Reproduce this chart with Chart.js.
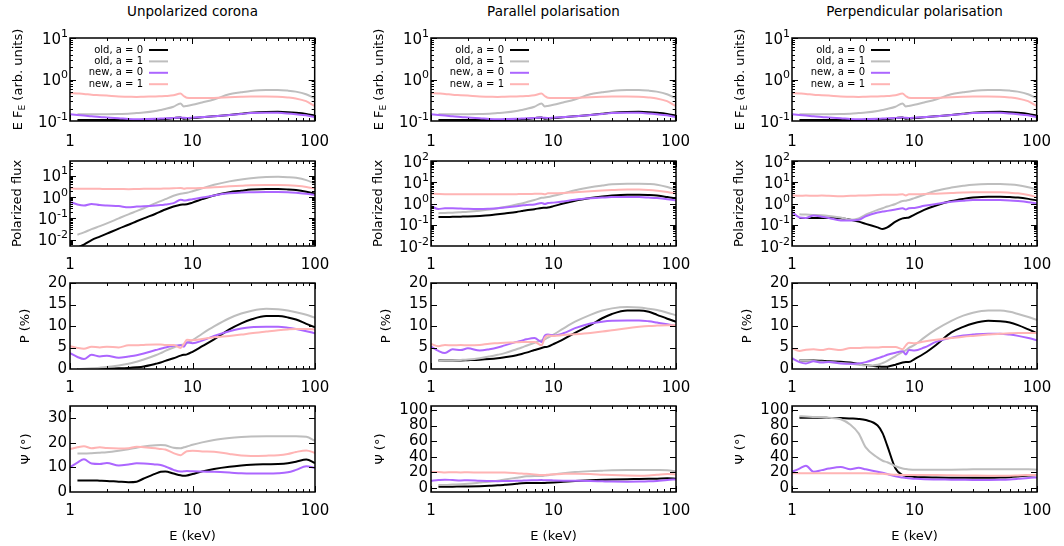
<!DOCTYPE html>
<html>
<head>
<meta charset="utf-8">
<script src="https://cdn.jsdelivr.net/npm/chart.js@4"></script>
<style>
  body { margin: 0; background: #fff; width: 1064px; height: 546px; position: relative; overflow: hidden; font-family: "DejaVu Sans", sans-serif; }
  canvas { position: absolute; }
  .coltitle { position: absolute; top: 3px; width: 245px; text-align: center; font-size: 13.5px; color: #000; }
</style>
</head>
<body>
<script>
// energies (keV), shared by every curve
const E = [1, 1.15, 1.3, 1.5, 1.75, 2, 2.5, 3, 3.5, 4, 5, 5.5, 6, 7, 8, 8.5, 9, 10, 12, 15, 20, 25, 30, 40, 50, 60, 70, 85, 100];

const SERIES_LABELS = ['old, a = 0', 'old, a = 1', 'new, a = 0', 'new, a = 1'];
const SERIES_COLORS = ['#000000', '#bebebe', '#ac66ff', '#ffb4b4'];
const COLUMN_TITLES = ['Unpolarized corona', 'Parallel polarisation', 'Perpendicular polarisation'];

// row 1: E F_E, same in all three columns
const fluxOld0 = [null, 0.105, 0.105, 0.105, 0.105, 0.105, 0.105, 0.105, 0.106, 0.107, 0.108, 0.11, 0.112, 0.117, 0.122, 0.114, 0.115, 0.118, 0.123, 0.13, 0.14, 0.15, 0.158, 0.165, 0.166, 0.163, 0.158, 0.148, 0.134];
const fluxOld1 = [null, 0.145, 0.145, 0.145, 0.145, 0.146, 0.148, 0.15, 0.155, 0.16, 0.175, 0.185, 0.195, 0.22, 0.265, 0.225, 0.23, 0.245, 0.28, 0.33, 0.44, 0.49, 0.53, 0.56, 0.56, 0.54, 0.51, 0.44, 0.35];
const fluxNew0 = [0.145, 0.14, 0.135, 0.13, 0.125, 0.122, 0.117, 0.112, 0.11, 0.111, 0.113, 0.115, 0.116, 0.118, 0.122, 0.119, 0.118, 0.12, 0.125, 0.13, 0.14, 0.148, 0.155, 0.158, 0.157, 0.152, 0.146, 0.137, 0.125];
const fluxNew1 = [0.47, 0.46, 0.45, 0.43, 0.42, 0.41, 0.39, 0.385, 0.38, 0.385, 0.39, 0.395, 0.4, 0.415, 0.46, 0.4, 0.365, 0.36, 0.36, 0.36, 0.375, 0.385, 0.39, 0.39, 0.385, 0.37, 0.35, 0.3, 0.23];

// row 2: polarized flux
const pfUnpolOld0 = [null, 0.0042, 0.0058, 0.0095, 0.0138, 0.019, 0.033, 0.05, 0.073, 0.1, 0.165, 0.21, 0.26, 0.36, 0.44, 0.45, 0.46, 0.55, 0.8, 1.2, 1.7, 2.0, 2.25, 2.4, 2.4, 2.3, 2.15, 1.8, 1.45];
const pfUnpolOld1 = [null, 0.017, 0.022, 0.031, 0.043, 0.058, 0.1, 0.155, 0.22, 0.3, 0.52, 0.65, 0.8, 1.15, 1.45, 1.5, 1.6, 1.9, 2.6, 3.8, 5.5, 6.8, 7.8, 8.8, 9.0, 8.7, 8.1, 6.3, 4.3];
const pfUnpolNew0 = [0.6, 0.45, 0.4, 0.48, 0.42, 0.4, 0.38, 0.33, 0.36, 0.37, 0.4, 0.42, 0.45, 0.52, 0.75, 0.7, 0.72, 0.8, 0.95, 1.2, 1.5, 1.65, 1.7, 1.75, 1.75, 1.7, 1.6, 1.45, 1.25];
const pfUnpolNew1 = [2.6, 2.5, 2.45, 2.5, 2.45, 2.4, 2.4, 2.35, 2.4, 2.45, 2.5, 2.5, 2.55, 2.6, 2.7, 2.5, 2.6, 2.6, 2.7, 2.9, 3.2, 3.4, 3.6, 3.7, 3.7, 3.6, 3.4, 3.0, 2.5];

const pfParOld0 = [null, 0.23, 0.23, 0.235, 0.24, 0.245, 0.26, 0.28, 0.31, 0.34, 0.4, 0.44, 0.48, 0.54, 0.62, 0.63, 0.65, 0.75, 1.0, 1.35, 1.8, 2.15, 2.4, 2.6, 2.6, 2.5, 2.35, 2.0, 1.7];
const pfParOld1 = [null, 0.35, 0.36, 0.37, 0.39, 0.41, 0.46, 0.52, 0.6, 0.68, 0.9, 1.0, 1.15, 1.45, 1.85, 1.9, 2.0, 2.3, 3.0, 4.2, 5.8, 7.0, 8.0, 8.6, 8.6, 8.3, 7.7, 6.0, 4.5];
const pfParNew0 = [0.76, 0.55, 0.6, 0.6, 0.58, 0.56, 0.55, 0.57, 0.6, 0.65, 0.75, 0.8, 0.85, 0.9, 1.05, 0.95, 1.05, 1.1, 1.25, 1.5, 1.75, 1.9, 2.0, 2.0, 2.0, 1.9, 1.8, 1.6, 1.4];
const pfParNew1 = [2.9, 2.8, 2.75, 2.75, 2.75, 2.7, 2.7, 2.7, 2.7, 2.7, 2.75, 2.8, 2.8, 2.85, 2.9, 2.7, 3.0, 3.0, 3.1, 3.4, 3.8, 4.1, 4.3, 4.5, 4.5, 4.3, 4.0, 3.5, 2.9];

const pfPerpOld0 = [null, 0.21, 0.21, 0.21, 0.21, 0.21, 0.2, 0.17, 0.14, 0.11, 0.075, 0.063, 0.075, 0.14, 0.2, 0.21, 0.22, 0.3, 0.5, 0.8, 1.3, 1.65, 1.9, 2.1, 2.1, 2.0, 1.9, 1.65, 1.4];
const pfPerpOld1 = [null, 0.31, 0.3, 0.29, 0.28, 0.26, 0.22, 0.17, 0.2, 0.3, 0.5, 0.6, 0.72, 0.95, 1.3, 1.35, 1.45, 1.8, 2.6, 4.0, 5.6, 6.8, 7.7, 8.2, 8.2, 7.9, 7.3, 5.8, 4.5];
const pfPerpNew0 = [0.4, 0.22, 0.21, 0.27, 0.24, 0.21, 0.16, 0.16, 0.17, 0.25, 0.38, 0.42, 0.45, 0.52, 0.6, 0.52, 0.6, 0.62, 0.78, 0.95, 1.2, 1.35, 1.45, 1.45, 1.45, 1.4, 1.3, 1.15, 1.0];
const pfPerpNew1 = [2.4, 2.3, 2.35, 2.3, 2.35, 2.3, 2.2, 2.3, 2.35, 2.4, 2.5, 2.55, 2.6, 2.6, 2.7, 2.4, 2.7, 2.7, 2.8, 2.9, 3.1, 3.3, 3.4, 3.4, 3.4, 3.2, 3.0, 2.5, 2.0];

// row 3: polarization degree P (%)
const polUnpolOld0 = [null, 0.0, 0.0, 0.02, 0.05, 0.08, 0.15, 0.25, 0.4, 0.6, 1.2, 1.5, 1.9, 2.5, 3.1, 3.3, 3.4, 4.0, 5.3, 6.9, 9.2, 10.6, 11.5, 12.3, 12.3, 12.0, 11.5, 10.5, 9.7];
const polUnpolOld1 = [null, 0.0, 0.05, 0.15, 0.3, 0.45, 0.8, 1.2, 1.7, 2.2, 3.2, 3.7, 4.2, 5.0, 5.6, 5.7, 6.0, 6.7, 8.2, 9.9, 11.8, 12.9, 13.5, 14.0, 13.9, 13.6, 13.2, 12.6, 11.9];
const polUnpolNew0 = [3.7, 2.8, 2.3, 3.3, 2.9, 3.1, 2.6, 2.9, 3.2, 3.6, 4.4, 4.7, 5.0, 5.4, 5.5, 5.2, 6.2, 6.0, 6.6, 7.7, 8.8, 9.4, 9.7, 9.8, 9.8, 9.6, 9.3, 8.8, 8.3];
const polUnpolNew1 = [5.3, 4.9, 4.7, 5.2, 5.0, 5.2, 5.0, 5.5, 5.5, 5.6, 5.7, 5.7, 5.6, 5.6, 4.9, 5.8, 6.8, 6.7, 7.0, 7.4, 7.7, 8.0, 8.3, 8.7, 9.0, 9.2, 9.3, 9.3, 9.2];

const polParOld0 = [null, 2.0, 2.0, 2.0, 2.0, 2.05, 2.15, 2.3, 2.5, 2.75, 3.2, 3.5, 3.8, 4.4, 4.9, 5.1, 5.2, 5.8, 6.9, 8.4, 10.2, 11.8, 12.8, 13.6, 13.6, 13.3, 12.6, 11.7, 11.0];
const polParOld1 = [null, 1.9, 1.95, 2.0, 2.1, 2.2, 2.5, 2.9, 3.3, 3.7, 4.6, 5.0, 5.4, 6.1, 6.7, 6.9, 7.3, 8.0, 9.4, 11.0, 12.6, 13.6, 14.1, 14.4, 14.3, 14.0, 13.7, 13.1, 12.5];
const polParNew0 = [5.2, 4.2, 3.7, 4.6, 4.4, 4.8, 4.3, 4.6, 5.0, 5.5, 6.3, 6.6, 6.9, 7.2, 6.3, 7.8, 8.0, 7.8, 8.3, 9.5, 10.6, 11.0, 11.2, 11.3, 11.3, 11.1, 10.8, 10.4, 10.0];
const polParNew1 = [5.8, 5.3, 5.6, 5.5, 5.6, 5.5, 5.6, 5.9, 6.0, 6.1, 6.2, 6.3, 6.3, 6.3, 5.5, 7.3, 7.8, 7.7, 7.9, 8.1, 8.4, 8.7, 9.0, 9.5, 9.8, 10.0, 10.1, 10.2, 10.2];

const polPerpOld0 = [null, 2.0, 2.0, 2.0, 1.9, 1.8, 1.7, 1.5, 1.2, 0.9, 0.6, 0.5, 0.55, 1.0, 1.5, 1.6, 1.6, 2.3, 3.6, 5.6, 8.5, 9.8, 10.6, 11.2, 11.1, 10.8, 10.2, 9.2, 8.3];
const polPerpOld1 = [null, 2.0, 1.95, 1.85, 1.7, 1.6, 1.4, 1.2, 1.0, 0.8, 1.0, 1.4, 1.9, 3.0, 4.0, 4.4, 4.9, 5.6, 7.3, 9.2, 11.2, 12.4, 13.1, 13.6, 13.6, 13.3, 12.8, 12.1, 11.4];
const polPerpNew0 = [2.5, 1.6, 1.3, 1.8, 1.5, 1.6, 1.3, 1.2, 1.3, 1.6, 2.5, 2.9, 3.3, 3.8, 4.1, 3.4, 4.4, 4.3, 5.0, 6.3, 7.3, 7.8, 8.0, 8.2, 8.2, 8.0, 7.7, 7.2, 6.7];
const polPerpNew1 = [4.8, 4.2, 4.5, 4.6, 4.4, 4.7, 4.4, 4.9, 4.9, 5.0, 5.0, 5.1, 5.1, 5.1, 4.6, 5.5, 6.1, 6.0, 6.4, 6.8, 7.2, 7.5, 7.7, 8.0, 8.2, 8.3, 8.4, 8.4, 8.4];

// row 4: polarization angle Psi (deg)
const angUnpolOld0 = [null, 4.7, 4.7, 4.7, 4.6, 4.5, 4.2, 4.0, 4.2, 5.5, 7.5, 8.2, 8.3, 7.5, 6.8, 6.6, 6.7, 7.3, 8.4, 9.4, 10.3, 10.8, 11.1, 11.3, 11.4, 11.7, 12.3, 13.2, 11.8];
const angUnpolOld1 = [null, 15.7, 15.7, 15.8, 16.0, 16.2, 16.8, 17.4, 18.0, 18.5, 19.0, 19.1, 19.0, 18.0, 17.8, 18.2, 18.5, 19.2, 20.2, 21.2, 22.0, 22.4, 22.6, 22.7, 22.7, 22.7, 22.7, 22.5, 20.8];
const angUnpolNew0 = [10.1, 12.0, 13.3, 11.6, 11.4, 11.8, 10.8, 11.2, 11.7, 11.6, 11.2, 11.0, 10.4, 9.0, 8.3, 8.4, 8.5, 8.4, 8.3, 8.2, 7.9, 7.6, 7.5, 7.5, 7.6, 8.0, 9.0, 10.5, 9.8];
const angUnpolNew1 = [17.5, 18.2, 18.6, 17.8, 18.2, 17.9, 17.7, 17.8, 18.4, 18.2, 17.8, 17.5, 17.3, 15.8, 15.0, 15.8, 16.6, 16.8, 16.5, 16.4, 15.5, 14.9, 14.7, 14.8, 15.0, 15.5, 16.3, 16.9, 15.9];

const angParOld0 = [null, 1.7, 1.7, 1.8, 2.0, 2.1, 2.5, 3.0, 3.5, 4.2, 5.5, 6.2, 6.5, 6.5, 6.5, 6.6, 6.8, 7.2, 8.0, 9.0, 10.0, 10.6, 11.0, 11.4, 11.6, 11.8, 12.0, 12.5, 12.0];
const angParOld1 = [null, 3.8, 4.0, 4.5, 5.0, 5.6, 7.0, 8.2, 9.5, 11.0, 13.3, 14.3, 15.0, 15.5, 15.6, 16.0, 16.5, 17.5, 19.0, 20.5, 21.7, 22.3, 22.7, 23.0, 23.1, 23.1, 23.0, 22.8, 21.5];
const angParNew0 = [9.4, 10.3, 10.8, 10.3, 9.8, 10.0, 9.3, 9.0, 8.8, 9.0, 9.3, 9.5, 9.8, 10.0, 10.2, 10.0, 10.0, 9.8, 9.5, 9.3, 9.0, 8.6, 8.3, 8.2, 8.3, 8.6, 9.2, 10.5, 11.0];
const angParNew1 = [20.5, 20.5, 20.0, 20.3, 20.0, 20.3, 19.8, 20.0, 20.0, 19.8, 19.0, 18.6, 18.3, 17.5, 16.7, 16.7, 17.2, 17.8, 18.2, 18.4, 18.0, 17.2, 16.6, 16.0, 15.9, 16.2, 17.0, 18.0, 17.5];

const angPerpOld0 = [null, 90, 90, 90, 90, 89.8, 89.5, 89, 88.5, 87, 80, 70, 54, 25, 16.5, 15.5, 15, 14.3, 13.8, 13.5, 13.3, 13.2, 13.1, 13.2, 13.5, 14.0, 14.8, 16.0, 16.6];
const angPerpOld1 = [null, 92, 91.5, 91, 90.5, 90, 88, 81, 70, 52, 39, 35, 33, 28, 25, 24.3, 23.8, 23.3, 23.3, 23.4, 23.6, 23.8, 24, 24, 24.1, 24.1, 24.1, 24, 23.5];
const angPerpNew0 = [20.8, 25, 28.5, 21, 23, 25, 27, 24, 26, 24, 21, 19.5, 18, 15, 13.5, 13, 12.5, 12.0, 11.3, 11.0, 10.8, 10.6, 10.5, 10.5, 10.6, 11.0, 11.8, 13.0, 13.6];
const angPerpNew1 = [19, 19, 19, 19, 19, 19, 19, 19, 19, 19, 18.5, 18.2, 17.8, 17.0, 16.6, 16.6, 16.6, 16.6, 16.6, 16.6, 16.4, 16.2, 16.0, 15.8, 15.8, 15.9, 16.2, 16.6, 16.6];

// tick values
const X_TICKS = [1, 10, 100];
const FLUX_TICKS = [0.1, 1, 10];
const PF_TICKS = [0.01, 0.1, 1, 10, 100];
const POL_TICKS = [0, 5, 10, 15, 20];
const ANG_TICKS_UNPOL = [0, 10, 20, 30];
const ANG_TICKS = [0, 20, 40, 60, 80, 100];

// layout (plot areas in page pixels)
const COL_LEFT = [70, 431, 792];
const ROW_TOP = [38, 161, 283, 406];
const ROW_BOTTOM = [121, 246, 369, 492];
const PLOT_W = 245;
const Y_AXIS_W = 70;
const PAD_TOP = 12;
const PAD_RIGHT = 26;
const FONT = '"DejaVu Sans"';
const TICK_SIZE = 15;

Chart.defaults.color = '#000';
Chart.defaults.font.family = FONT;

function axisMarks(scale) {
    const marks = scale.ticks.map(t => [t.value, 6]);
    if (scale.type === 'logarithmic') {
        const lo = Math.floor(Math.log10(scale.min)), hi = Math.ceil(Math.log10(scale.max));
        for (let d = lo; d < hi; d++) {
            for (let m = 2; m <= 9; m++) {
                const v = m * Math.pow(10, d);
                if (v > scale.min && v < scale.max) marks.push([v, 3]);
            }
        }
    }
    return marks;
}

// gnuplot style box with inward ticks on all four sides, plus 10^n labels
const gnuplotFrame = {
    id: 'gnuplotFrame',
    afterDatasetsDraw(chart) {
        const { ctx, chartArea: a, scales: { x, y } } = chart;
        ctx.save();
        ctx.strokeStyle = '#000';
        ctx.lineWidth = 1;
        ctx.beginPath();
        axisMarks(x).forEach(([v, len]) => {
            const px = Math.round(x.getPixelForValue(v)) + 0.5;
            ctx.moveTo(px, a.bottom); ctx.lineTo(px, a.bottom - len);
            ctx.moveTo(px, a.top); ctx.lineTo(px, a.top + len);
        });
        axisMarks(y).forEach(([v, len]) => {
            const py = Math.round(y.getPixelForValue(v)) + 0.5;
            if (py < a.top || py > a.bottom) return;
            ctx.moveTo(a.left, py); ctx.lineTo(a.left + len, py);
            ctx.moveTo(a.right, py); ctx.lineTo(a.right - len, py);
        });
        ctx.stroke();
        ctx.lineWidth = 1.5;
        ctx.strokeRect(a.left, a.top, a.right - a.left, a.bottom - a.top);

        if (y.type === 'logarithmic') {
            ctx.fillStyle = '#000';
            ctx.textBaseline = 'alphabetic';
            ctx.textAlign = 'left';
            y.ticks.forEach(t => {
                const py = y.getPixelForValue(t.value);
                const exp = String(Math.round(Math.log10(t.value)));
                ctx.font = '11px ' + FONT;
                const ew = ctx.measureText(exp).width;
                ctx.font = TICK_SIZE + 'px ' + FONT;
                const bw = ctx.measureText('10').width;
                const right = a.left - 2;
                ctx.fillText('10', right - ew - bw, py + 5.5);
                ctx.font = '11px ' + FONT;
                ctx.fillText(exp, right - ew, py - 1.5);
            });
        }
        ctx.restore();
    }
};

// key: text right-aligned, sample line to its right
const gnuplotKey = {
    id: 'gnuplotKey',
    afterDatasetsDraw(chart, args, opts) {
        if (!opts.show) return;
        const { ctx, chartArea: a } = chart;
        ctx.save();
        ctx.font = '10px ' + FONT;
        ctx.textAlign = 'right';
        ctx.textBaseline = 'middle';
        chart.data.datasets.forEach((ds, i) => {
            const y = a.top + 12 + i * 11.4;
            ctx.fillStyle = '#000';
            ctx.fillText(ds.label, a.left + 73, y);
            ctx.strokeStyle = ds.borderColor;
            ctx.lineWidth = 2;
            ctx.beginPath();
            ctx.moveTo(a.left + 79, y); ctx.lineTo(a.left + 98, y);
            ctx.stroke();
        });
        ctx.restore();
    }
};

// y title with a subscript: "E F_E (arb. units)"
const subscriptTitle = {
    id: 'subscriptTitle',
    afterDraw(chart, args, opts) {
        if (!opts.parts) return;
        const { ctx, chartArea: a } = chart;
        ctx.save();
        ctx.translate(opts.x, (a.top + a.bottom) / 2);
        ctx.rotate(-Math.PI / 2);
        ctx.fillStyle = '#000';
        ctx.textBaseline = 'middle';
        ctx.textAlign = 'left';
        const widths = opts.parts.map(p => { ctx.font = p.size + 'px ' + FONT; return ctx.measureText(p.text).width; });
        let cx = -widths.reduce((s, w) => s + w, 0) / 2;
        opts.parts.forEach((p, i) => {
            ctx.font = p.size + 'px ' + FONT;
            ctx.fillText(p.text, cx, p.dy || 0);
            cx += widths[i];
        });
        ctx.restore();
    }
};

function makePanel(col, row, seriesArrays, yCfg) {
    const plotH = ROW_BOTTOM[row] - ROW_TOP[row];
    const xH = row === 3 ? 54 : 32;
    const canvas = document.createElement('canvas');
    canvas.width = Y_AXIS_W + PLOT_W + PAD_RIGHT;
    canvas.height = PAD_TOP + plotH + xH;
    canvas.style.left = (COL_LEFT[col] - Y_AXIS_W) + 'px';
    canvas.style.top = (ROW_TOP[row] - PAD_TOP) + 'px';
    document.body.appendChild(canvas);

    const datasets = seriesArrays.map((arr, i) => ({
        label: SERIES_LABELS[i],
        data: E.map((e, k) => ({ x: e, y: arr[k] })),
        borderColor: SERIES_COLORS[i],
        borderWidth: 2,
        pointRadius: 0,
        cubicInterpolationMode: 'monotone',
        order: 3 - i
    }));

    const logY = yCfg.type === 'logarithmic';

    new Chart(canvas, {
        type: 'line',
        data: { datasets },
        plugins: [gnuplotFrame, gnuplotKey, subscriptTitle],
        options: {
            responsive: false,
            animation: false,
            devicePixelRatio: 1,
            layout: { padding: { left: 0, right: PAD_RIGHT, top: PAD_TOP, bottom: 0 } },
            plugins: {
                legend: { display: false },
                tooltip: { enabled: false },
                gnuplotKey: { show: row === 0 },
                subscriptTitle: row === 0 ? {
                    x: 19,
                    parts: [
                        { text: 'E F', size: 13 },
                        { text: 'E', size: 9, dy: 4 },
                        { text: ' (arb. units)', size: 13 }
                    ]
                } : {}
            },
            scales: {
                x: {
                    type: 'logarithmic',
                    min: 1, max: 100,
                    grid: { display: false, drawTicks: false },
                    border: { display: false },
                    afterBuildTicks: s => { s.ticks = X_TICKS.map(v => ({ value: v })); },
                    afterFit: s => { s.height = xH; },
                    ticks: { autoSkip: false, maxRotation: 0, padding: row === 0 ? 12 : 10, font: { size: TICK_SIZE }, callback: v => String(v) },
                    title: { display: row === 3, text: 'E (keV)', font: { size: 13 }, padding: { top: 0, bottom: 2 } }
                },
                y: {
                    type: yCfg.type,
                    min: yCfg.min, max: yCfg.max,
                    grid: { display: false, drawTicks: false },
                    border: { display: false },
                    afterBuildTicks: s => { s.ticks = yCfg.ticks.filter(v => v >= yCfg.min && v <= yCfg.max).map(v => ({ value: v })); },
                    afterFit: s => { s.width = Y_AXIS_W; },
                    ticks: { display: !logY, autoSkip: false, padding: 3, font: { size: TICK_SIZE }, callback: v => String(v) },
                    title: { display: !!yCfg.title, text: yCfg.title || '', font: { size: 13 }, padding: { top: yCfg.titlePad || 10, bottom: 0 } }
                }
            }
        }
    });
}

const columns = [
    { pf: [pfUnpolOld0, pfUnpolOld1, pfUnpolNew0, pfUnpolNew1], pfMin: 0.005, pfMax: 50,
      pol: [polUnpolOld0, polUnpolOld1, polUnpolNew0, polUnpolNew1],
      ang: [angUnpolOld0, angUnpolOld1, angUnpolNew0, angUnpolNew1], angMin: 0, angMax: 35, angTicks: ANG_TICKS_UNPOL, angPad: 19 },
    { pf: [pfParOld0, pfParOld1, pfParNew0, pfParNew1], pfMin: 0.01, pfMax: 100,
      pol: [polParOld0, polParOld1, polParNew0, polParNew1],
      ang: [angParOld0, angParOld1, angParNew0, angParNew1], angMin: -5, angMax: 105, angTicks: ANG_TICKS, angPad: 12 },
    { pf: [pfPerpOld0, pfPerpOld1, pfPerpNew0, pfPerpNew1], pfMin: 0.01, pfMax: 100,
      pol: [polPerpOld0, polPerpOld1, polPerpNew0, polPerpNew1],
      ang: [angPerpOld0, angPerpOld1, angPerpNew0, angPerpNew1], angMin: -5, angMax: 105, angTicks: ANG_TICKS, angPad: 11 }
];

columns.forEach((c, col) => {
    const t = document.createElement('div');
    t.className = 'coltitle';
    t.style.left = COL_LEFT[col] + 'px';
    t.textContent = COLUMN_TITLES[col];
    document.body.appendChild(t);

    makePanel(col, 0, [fluxOld0, fluxOld1, fluxNew0, fluxNew1],
        { type: 'logarithmic', min: 0.1, max: 10, ticks: FLUX_TICKS });
    makePanel(col, 1, c.pf,
        { type: 'logarithmic', min: c.pfMin, max: c.pfMax, ticks: PF_TICKS, title: 'Polarized flux', titlePad: 10 });
    makePanel(col, 2, c.pol,
        { type: 'linear', min: 0, max: 20, ticks: POL_TICKS, title: 'P (%)', titlePad: 18 });
    makePanel(col, 3, c.ang,
        { type: 'linear', min: c.angMin, max: c.angMax, ticks: c.angTicks, title: '\u03A8 (\u00B0)', titlePad: c.angPad });
});
</script>
</body>
</html>
